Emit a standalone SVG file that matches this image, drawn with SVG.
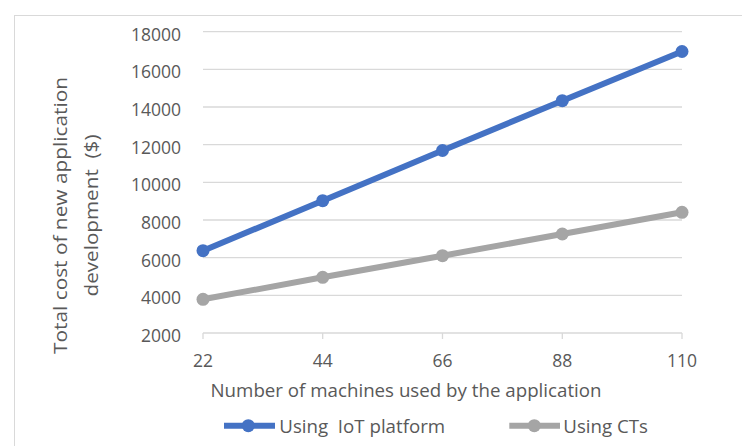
<svg xmlns="http://www.w3.org/2000/svg" width="742" height="446" viewBox="0 0 742 446">
<style>
.t{font-family:"Open Sans","Liberation Sans",sans-serif;fill:#595959;}
.ylab{font-size:17.5px;text-anchor:end;}
.xlab{font-size:17.5px;text-anchor:middle;}
.title{font-size:18.7px;text-anchor:middle;}
.leg{font-size:18.7px;}
.grid{stroke:#d9d9d9;stroke-width:1.3;fill:none;}
.s1{stroke:#4472c4;stroke-width:6;fill:none;stroke-linejoin:round;}
.s2{stroke:#a5a5a5;stroke-width:6;fill:none;stroke-linejoin:round;}
.m1{fill:#4472c4;}
.m2{fill:#a5a5a5;}
</style>
<rect x="0" y="0" width="742" height="446" fill="#ffffff"/>
<rect id="chart-border" x="14.5" y="15.5" width="740" height="440" fill="none" stroke="#d9d9d9" stroke-width="1"/>
<g id="gridlines">
<line class="grid" x1="203" y1="31.7" x2="682" y2="31.7"/>
<line class="grid" x1="203" y1="69.4" x2="682" y2="69.4"/>
<line class="grid" x1="203" y1="107" x2="682" y2="107"/>
<line class="grid" x1="203" y1="144.7" x2="682" y2="144.7"/>
<line class="grid" x1="203" y1="182.3" x2="682" y2="182.3"/>
<line class="grid" x1="203" y1="220" x2="682" y2="220"/>
<line class="grid" x1="203" y1="257.7" x2="682" y2="257.7"/>
<line class="grid" x1="203" y1="295.3" x2="682" y2="295.3"/>
</g>
<g id="x-axis">
<path class="grid" d="M203 333H682M203 333V339M322.7 333V339M442.5 333V339M562.3 333V339M682 333V339"/>
<text class="t xlab" x="203" y="367">22</text>
<text class="t xlab" x="322.7" y="367">44</text>
<text class="t xlab" x="442.5" y="367">66</text>
<text class="t xlab" x="562.3" y="367">88</text>
<text class="t xlab" x="682" y="367">110</text>
<text class="t title" x="406" y="397" textLength="391" lengthAdjust="spacingAndGlyphs">Number of machines used by the application</text>
</g>
<g id="y-axis">
<text class="t ylab" x="181" y="40.7">18000</text>
<text class="t ylab" x="181" y="78.4">16000</text>
<text class="t ylab" x="181" y="116">14000</text>
<text class="t ylab" x="181" y="153.7">12000</text>
<text class="t ylab" x="181" y="191.3">10000</text>
<text class="t ylab" x="181" y="229">8000</text>
<text class="t ylab" x="181" y="266.7">6000</text>
<text class="t ylab" x="181" y="304.3">4000</text>
<text class="t ylab" x="181" y="342">2000</text>
<text class="t title" transform="translate(67,215.5) rotate(-90)" textLength="277" lengthAdjust="spacingAndGlyphs">Total cost of new application</text>
<text class="t title" transform="translate(97.5,215.5) rotate(-90)" xml:space="preserve" textLength="162" lengthAdjust="spacingAndGlyphs">development  ($)</text>
</g>
<g id="connectors">
<polyline id="series-iot" class="s1" points="203,250.7 322.7,200.7 442.5,150.5 562.3,100.7 682,51.5"/>
<polyline id="series-ct" class="s2" points="203,299.3 322.7,277.3 442.5,255.7 562.3,234 682,212.3"/>
</g>
<g id="markers-iot">
<circle class="m1" cx="203" cy="250.7" r="6.5"/>
<circle class="m1" cx="322.7" cy="200.7" r="6.5"/>
<circle class="m1" cx="442.5" cy="150.5" r="6.5"/>
<circle class="m1" cx="562.3" cy="100.7" r="6.5"/>
<circle class="m1" cx="682" cy="51.5" r="6.5"/>
</g>
<g id="markers-ct">
<circle class="m2" cx="203" cy="299.3" r="6.5"/>
<circle class="m2" cx="322.7" cy="277.3" r="6.5"/>
<circle class="m2" cx="442.5" cy="255.7" r="6.5"/>
<circle class="m2" cx="562.3" cy="234" r="6.5"/>
<circle class="m2" cx="682" cy="212.3" r="6.5"/>
</g>
<g id="legend">
<line class="s1" x1="224" y1="425.7" x2="275" y2="425.7"/>
<circle class="m1" cx="248.3" cy="425.7" r="6.5"/>
<text class="t leg" x="279.3" y="432.7" xml:space="preserve">Using  IoT platform</text>
<line class="s2" x1="509.3" y1="425.7" x2="560" y2="425.7"/>
<circle class="m2" cx="534.3" cy="425.7" r="6.5"/>
<text class="t leg" x="563.3" y="432.7">Using CTs</text>
</g>
</svg>
